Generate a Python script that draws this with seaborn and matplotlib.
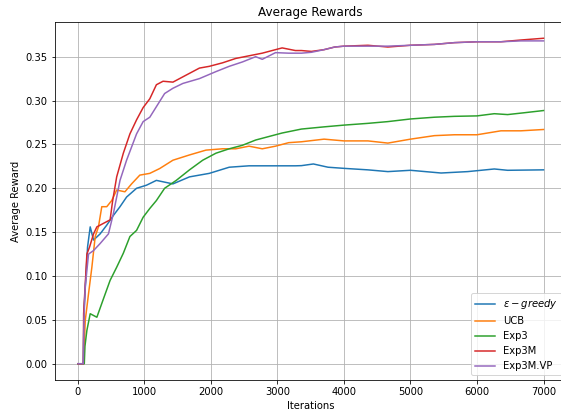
import numpy as np
import pandas as pd
import matplotlib
matplotlib.use("Agg")
import matplotlib.pyplot as plt
import seaborn as sns

# values
eps_x = [0, 80, 90, 144, 184, 234, 333, 433, 532, 632, 731, 881, 1030, 1179, 1303, 1428,
         1677, 1975, 2274, 2572, 2970, 3269, 3360, 3540, 3760, 4000, 4360, 4660, 5000,
         5460, 5860, 6260, 6460, 7000]
eps_y = [0, 0, 0.06, 0.133, 0.156, 0.141, 0.148, 0.158, 0.169, 0.179, 0.190, 0.200, 0.2035,
         0.209, 0.207, 0.205, 0.213, 0.217, 0.224, 0.2256, 0.2256, 0.2256, 0.2258, 0.2277,
         0.224, 0.2227, 0.221, 0.219, 0.2205, 0.2174, 0.219, 0.222, 0.2205, 0.221]

ucb_x = [0, 85, 109, 159, 209, 259, 308, 358, 433, 507, 582, 706, 806, 930, 1080, 1229,
         1428, 1677, 1925, 2174, 2373, 2572, 2771, 2970, 3169, 3360, 3700, 4000, 4360,
         4660, 5000, 5360, 5660, 6000, 6360, 6660, 7000]
ucb_y = [0, 0, 0.049, 0.080, 0.110, 0.145, 0.156, 0.179, 0.179, 0.186, 0.198, 0.196, 0.205,
         0.215, 0.217, 0.2225, 0.232, 0.238, 0.2435, 0.245, 0.245, 0.248, 0.245, 0.248,
         0.252, 0.253, 0.256, 0.254, 0.254, 0.2515, 0.256, 0.260, 0.261, 0.261, 0.2655,
         0.2655, 0.267]

exp3_x = [0, 95, 105, 134, 184, 284, 383, 483, 582, 682, 781, 881, 980, 1080, 1179, 1303,
          1478, 1677, 1876, 2075, 2274, 2473, 2672, 2871, 3070, 3360, 3700, 4000, 4360,
          4660, 5000, 5360, 5660, 6000, 6260, 6460, 6700, 7000]
exp3_y = [0, 0, 0.02, 0.038, 0.057, 0.053, 0.074, 0.095, 0.110, 0.126, 0.145, 0.152, 0.167,
          0.177, 0.186, 0.200, 0.209, 0.221, 0.232, 0.240, 0.245, 0.249, 0.255, 0.259, 0.263,
          0.2675, 0.270, 0.272, 0.274, 0.276, 0.279, 0.281, 0.282, 0.2825, 0.285, 0.284,
          0.286, 0.2886]

exp3m_x = [0, 80, 85, 134, 174, 234, 284, 383, 483, 520, 582, 682, 781, 881, 980, 1080,
           1179, 1279, 1428, 1577, 1826, 1975, 2174, 2373, 2572, 2771, 2970, 3070, 3269,
           3360, 3510, 3700, 3860, 4000, 4360, 4660, 5000, 5360, 5660, 6000, 6360, 6660, 7000]
exp3m_y = [0, 0, 0.057, 0.125, 0.133, 0.148, 0.156, 0.160, 0.164, 0.185, 0.213, 0.240, 0.262,
           0.278, 0.292, 0.302, 0.318, 0.322, 0.321, 0.327, 0.337, 0.339, 0.343, 0.348, 0.351,
           0.354, 0.358, 0.360, 0.357, 0.357, 0.356, 0.358, 0.361, 0.362, 0.363, 0.361, 0.363,
           0.364, 0.366, 0.367, 0.367, 0.369, 0.371]

vp_x = [0, 80, 90, 109, 159, 234, 333, 458, 532, 632, 731, 881, 980, 1080, 1179, 1303, 1428,
        1577, 1826, 2075, 2274, 2473, 2672, 2771, 2970, 3169, 3360, 3510, 3700, 3860, 4000,
        4360, 4660, 5000, 5360, 5660, 6000, 6360, 6660, 7000]
vp_y = [0, 0, 0.05, 0.0875, 0.125, 0.129, 0.137, 0.148, 0.171, 0.209, 0.232, 0.262, 0.276,
        0.281, 0.293, 0.308, 0.314, 0.3195, 0.325, 0.333, 0.339, 0.344, 0.350, 0.347, 0.3546,
        0.354, 0.354, 0.355, 0.358, 0.361, 0.362, 0.362, 0.362, 0.363, 0.364, 0.366, 0.367,
        0.367, 0.368, 0.368]

names = [r"$\epsilon-greedy$", "UCB", "Exp3", "Exp3M", "Exp3M.VP"]
series = [(eps_x, eps_y), (ucb_x, ucb_y), (exp3_x, exp3_y), (exp3m_x, exp3m_y), (vp_x, vp_y)]


def main():
    frames = []
    for name, (xs, ys) in zip(names, series):
        frames.append(pd.DataFrame({"Iterations": xs, "Average Reward": ys, "algo": name}))
    data = pd.concat(frames, ignore_index=True)

    # the original looks rendered at 72 dpi, so fonts come out smaller
    fig, ax = plt.subplots(figsize=(561 / 72, 414 / 72), dpi=72)
    sns.lineplot(data=data, x="Iterations", y="Average Reward", hue="algo",
                 hue_order=names, palette="tab10", estimator=None, sort=True,
                 linewidth=1.5, ax=ax)
    ax.grid(True)
    ax.set_title("Average Rewards")
    ax.legend(loc="lower right")
    # right spine sits just past the picture edge in the reference
    fig.subplots_adjust(left=0.0975, right=1.0103, top=0.9469, bottom=0.0821)
    fig.savefig("out.png", dpi=72)


if __name__ == "__main__":
    main()
